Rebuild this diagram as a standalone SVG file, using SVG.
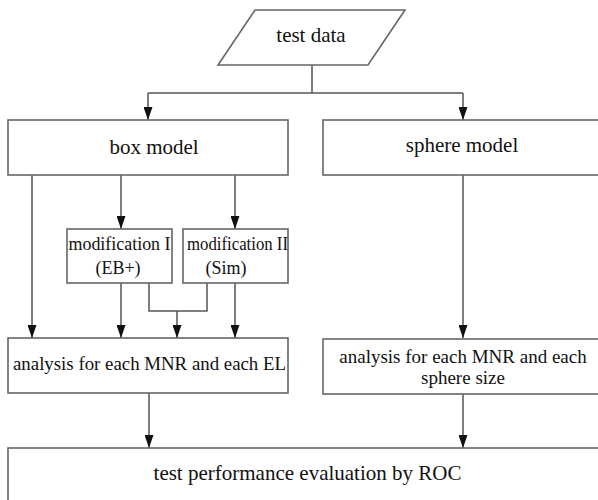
<svg xmlns="http://www.w3.org/2000/svg" width="598" height="500" viewBox="0 0 598 500">
<defs>
<marker id="arr" markerUnits="userSpaceOnUse" markerWidth="9" markerHeight="13" refX="4.5" refY="13" orient="0" viewBox="0 0 9 13">
<path d="M0,0 L9,0 L4.5,13 z" fill="#111"/>
</marker>
<style>
.box{fill:#fff;stroke:#666;stroke-width:1.6}
.ln{fill:none;stroke:#555;stroke-width:1.5}
text{font-family:"Liberation Serif","Times New Roman",serif;fill:#111;text-anchor:middle}
.t21{font-size:21px}
.t19{font-size:19px}
.t18{font-size:18px}
</style>
</defs>
<rect width="598" height="500" fill="#fff"/>
<g id="connectors">
<path class="ln" d="M312,65 V93 M148,93 H463"/>
<path class="ln" d="M148,93 V120" marker-end="url(#arr)"/>
<path class="ln" d="M463,93 V120" marker-end="url(#arr)"/>
<path class="ln" d="M32,175 V338" marker-end="url(#arr)"/>
<path class="ln" d="M121,175 V229" marker-end="url(#arr)"/>
<path class="ln" d="M235,175 V229" marker-end="url(#arr)"/>
<path class="ln" d="M121,283 V338" marker-end="url(#arr)"/>
<path class="ln" d="M235,283 V338" marker-end="url(#arr)"/>
<path class="ln" d="M149,283 V311 H207 V283"/>
<path class="ln" d="M177,311 V338" marker-end="url(#arr)"/>
<path class="ln" d="M463,175 V338" marker-end="url(#arr)"/>
<path class="ln" d="M149,393 V448" marker-end="url(#arr)"/>
<path class="ln" d="M463,394 V448" marker-end="url(#arr)"/>
</g>
<g id="test-data">
<polygon class="box" points="255,10 405,10 368,65 218,65"/>
<text class="t21" x="311" y="42">test data</text>
</g>
<g id="box-model">
<rect class="box" x="8" y="120" width="280" height="55"/>
<text class="t21" x="154" y="154">box model</text>
</g>
<g id="sphere-model">
<rect class="box" x="323" y="120" width="290" height="55"/>
<text class="t21" x="462" y="152">sphere model</text>
</g>
<g id="mod1">
<rect class="box" x="67" y="229" width="105" height="54"/>
<text class="t18" x="119.5" y="250" textLength="102" lengthAdjust="spacingAndGlyphs">modification I</text>
<text class="t18" x="118" y="274">(EB+)</text>
</g>
<g id="mod2">
<rect class="box" x="183" y="229" width="105" height="54"/>
<text class="t18" x="237.5" y="250" textLength="101" lengthAdjust="spacingAndGlyphs">modification II</text>
<text class="t18" x="226" y="274">(Sim)</text>
</g>
<g id="analysis-box">
<rect class="box" x="8" y="338" width="280" height="55"/>
<text class="t19" x="149.5" y="370" textLength="273" lengthAdjust="spacingAndGlyphs">analysis for each MNR and each EL</text>
</g>
<g id="analysis-sphere">
<rect class="box" x="323" y="339" width="290" height="55"/>
<text class="t19" x="463" y="363">analysis for each MNR and each</text>
<text class="t19" x="463" y="384">sphere size</text>
</g>
<g id="roc">
<rect class="box" x="8" y="448" width="605" height="65"/>
<text class="t21" x="307.5" y="480">test performance evaluation by ROC</text>
</g>
</svg>
